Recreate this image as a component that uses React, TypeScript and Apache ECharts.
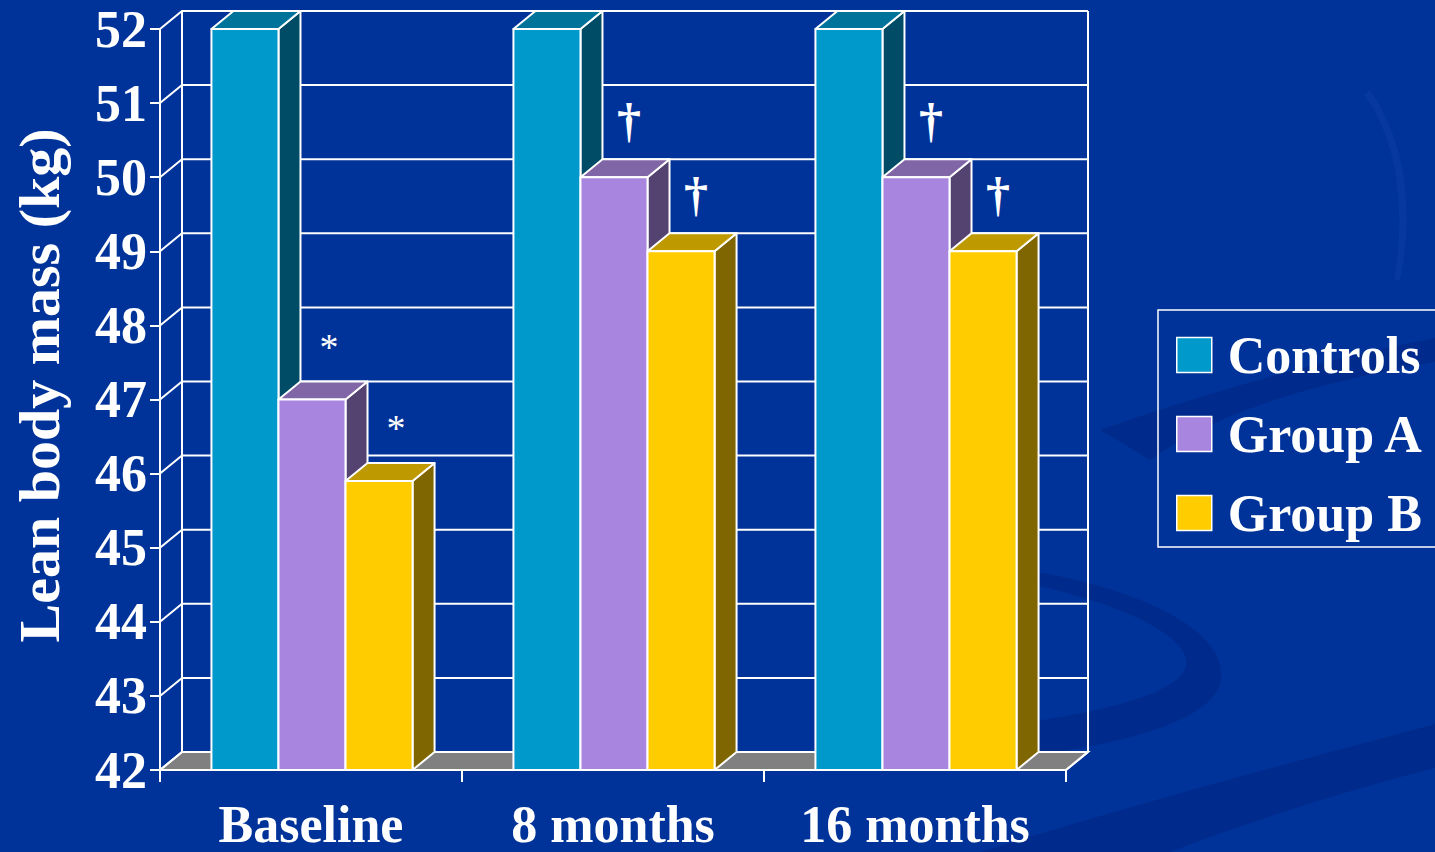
import React, { useEffect, useRef } from "react";
import * as echarts from "echarts";

// Lean body mass (kg) by group and visit
const categories = ["Baseline", "8 months", "16 months"];
const seriesNames = ["Controls", "Group A", "Group B"];
const controls = [52, 52, 52];
const groupA = [47, 50, 50];
const groupB = [45.9, 49, 49];
// significance marks drawn above each bar
const controlsMarks = ["", "", ""];
const groupAMarks = ["*", "†", "†"];
const groupBMarks = ["*", "†", "†"];

const Y_MIN = 42;
const Y_MAX = 52;
const Y_STEP = 1;

const SERIF = "'Liberation Serif', 'Times New Roman', 'DejaVu Serif', serif";
const BG = "#003399";
const LINE = "#ffffff";

// depth of the pseudo-3D box
const DX = 22;
const DY = -18;
const BAR_FRACTION = 0.222;

const palettes = [
  { front: "#0099cc", top: "#00739a", side: "#004c66" },
  { front: "#a886e0", top: "#8066a7", side: "#544371" },
  { front: "#ffcc00", top: "#bf9900", side: "#7f6600" },
];

const seriesValues = [controls, groupA, groupB];
const seriesMarks = [controlsMarks, groupAMarks, groupBMarks];

// decorative background swooshes
const swooshPaths = [
  "M 1000 566 C 1140 585 1228 630 1221 680 C 1214 722 1120 746 1000 760 L 1000 726 C 1110 712 1180 692 1186 666 C 1192 640 1130 602 1000 578 Z",
  "M 980 852 C 1150 800 1300 760 1435 724 L 1435 768 C 1330 795 1240 825 1170 852 Z",
  "M 1100 430 C 1200 395 1320 360 1435 338 L 1435 362 C 1320 382 1220 410 1150 460 Z",
  "M 1370 90 C 1405 140 1415 210 1400 280 L 1394 280 C 1406 210 1398 140 1364 95 Z",
];
swooshPaths.forEach((d, i) => {
  echarts.graphic.registerShape("swoosh" + i, echarts.graphic.extendPath(d, {}) as any);
});

function renderFrame(params: any, api: any) {
  const cs = params.coordSys;
  const left = cs.x;
  const right = cs.x + cs.width;
  const top = cs.y;
  const bottom = cs.y + cs.height;
  const lineStyle = { stroke: LINE, lineWidth: 2, fill: "none" };
  const children: any[] = [];
  children.push({
    type: "polygon",
    shape: {
      points: [
        [left, bottom],
        [left + DX, bottom + DY],
        [right + DX, bottom + DY],
        [right, bottom],
      ],
    },
    style: { fill: "#808080", stroke: LINE, lineWidth: 2 },
  });
  for (let v = Y_MIN; v <= Y_MAX; v += Y_STEP) {
    const y = api.coord([0, v])[1];
    children.push({
      type: "polyline",
      shape: {
        points: [
          [left, y],
          [left + DX, y + DY],
          [right + DX, y + DY],
        ],
      },
      style: lineStyle,
    });
  }
  children.push({
    type: "line",
    shape: { x1: left + DX, y1: top + DY, x2: left + DX, y2: bottom + DY },
    style: lineStyle,
  });
  children.push({
    type: "line",
    shape: { x1: right + DX, y1: top + DY, x2: right + DX, y2: bottom + DY },
    style: lineStyle,
  });
  children.push({
    type: "line",
    shape: { x1: right, y1: bottom, x2: right + DX, y2: bottom + DY },
    style: lineStyle,
  });
  return { type: "group", children };
}

function makeBarRenderer(i: number) {
  const pal = palettes[i];
  const marks = seriesMarks[i];
  return (params: any, api: any) => {
    const ci = api.value(0) as number;
    const v = api.value(1) as number;
    const [cx, ty] = api.coord([ci, v]);
    const by = api.coord([ci, Y_MIN])[1];
    const band = api.size([1, 0])[0];
    const bw = band * BAR_FRACTION;
    const x0 = cx - 1.5 * bw + i * bw + 1;
    const x1 = x0 + bw;
    const edge = { stroke: LINE, lineWidth: 2, lineJoin: "round" };
    const children: any[] = [
      {
        type: "polygon",
        shape: {
          points: [
            [x1, ty],
            [x1 + DX, ty + DY],
            [x1 + DX, by + DY],
            [x1, by],
          ],
        },
        style: { fill: pal.side, ...edge },
      },
      {
        type: "polygon",
        shape: {
          points: [
            [x0, ty],
            [x0 + DX, ty + DY],
            [x1 + DX, ty + DY],
            [x1, ty],
          ],
        },
        style: { fill: pal.top, ...edge },
      },
      {
        type: "rect",
        shape: { x: x0, y: ty, width: bw, height: by - ty },
        style: { fill: pal.front, ...edge },
      },
    ];
    const mark = marks[ci];
    if (mark) {
      const isStar = mark === "*";
      children.push({
        type: "text",
        x: (x0 + x1) / 2 + (isStar ? 17 : 15),
        y: ty - 55 + (isStar ? 2 : -2),
        style: {
          text: mark,
          fill: "#ffffff",
          font: isStar ? `normal 38px ${SERIF}` : `bold 48px ${SERIF}`,
          align: "center",
          verticalAlign: "middle",
        },
      });
    }
    return { type: "group", children };
  };
}

export default function App() {
  const ref = useRef<HTMLDivElement>(null);
  useEffect(() => {
    if (!ref.current) return;
    const chart = echarts.init(ref.current, undefined, { renderer: "svg" });
    const textBase = { color: "#ffffff", fontFamily: SERIF, fontWeight: "bold" as const };
    const option: any = {
      animation: false,
      backgroundColor: BG,
      graphic: swooshPaths.map((_, i) => ({
        type: "swoosh" + i,
        x: 0,
        y: 0,
        z: -10,
        silent: true,
        style: { fill: i === 3 ? "rgba(80,120,210,0.08)" : "rgba(0,25,105,0.26)" },
      })),
      grid: { left: 160, right: 369, top: 29, bottom: 82, containLabel: false },
      legend: {
        data: seriesNames,
        orient: "vertical",
        left: 1158,
        top: 310,
        icon: "rect",
        itemWidth: 35,
        itemHeight: 35,
        itemGap: 27,
        padding: [19, 60, 8, 18],
        borderColor: "#ffffff",
        borderWidth: 1.5,
        selectedMode: false,
        itemStyle: { borderColor: "#ffffff", borderWidth: 1.5 },
        textStyle: { ...textBase, fontSize: 52, lineHeight: 52, padding: [0, 0, 0, 11] },
      },
      xAxis: {
        type: "category",
        data: categories,
        boundaryGap: true,
        axisLine: { show: true, lineStyle: { color: LINE, width: 2 } },
        axisTick: { show: true, length: 12, lineStyle: { color: LINE, width: 2 } },
        axisLabel: { ...textBase, fontSize: 52, margin: 28 },
        splitLine: { show: false },
      },
      yAxis: {
        type: "value",
        min: Y_MIN,
        max: Y_MAX,
        interval: Y_STEP,
        axisLine: { show: true, lineStyle: { color: LINE, width: 2 } },
        axisTick: { show: true, length: 10, lineStyle: { color: LINE, width: 2 } },
        axisLabel: { ...textBase, fontSize: 52, margin: 13 },
        splitLine: { show: false },
        name: "Lean body mass (kg)",
        nameLocation: "middle",
        nameGap: 92,
        nameRotate: 90,
        nameTextStyle: { ...textBase, fontSize: 58, padding: [0, 0, 0, 28] },
      },
      series: [
        {
          type: "custom",
          name: "frame",
          data: [[0, Y_MIN]],
          encode: { x: 0, y: 1 },
          renderItem: renderFrame,
          silent: true,
        },
        ...seriesNames.map((name, i) => ({
          type: "custom",
          name,
          data: seriesValues[i].map((v, ci) => [ci, v]),
          encode: { x: 0, y: 1 },
          itemStyle: { color: palettes[i].front },
          renderItem: makeBarRenderer(i),
        })),
      ],
    };
    chart.setOption(option);
    return () => chart.dispose();
  }, []);
  return (
    <div
      ref={ref}
      style={{ position: "fixed", left: 0, top: 0, width: 1435, height: 852 }}
    />
  );
}
